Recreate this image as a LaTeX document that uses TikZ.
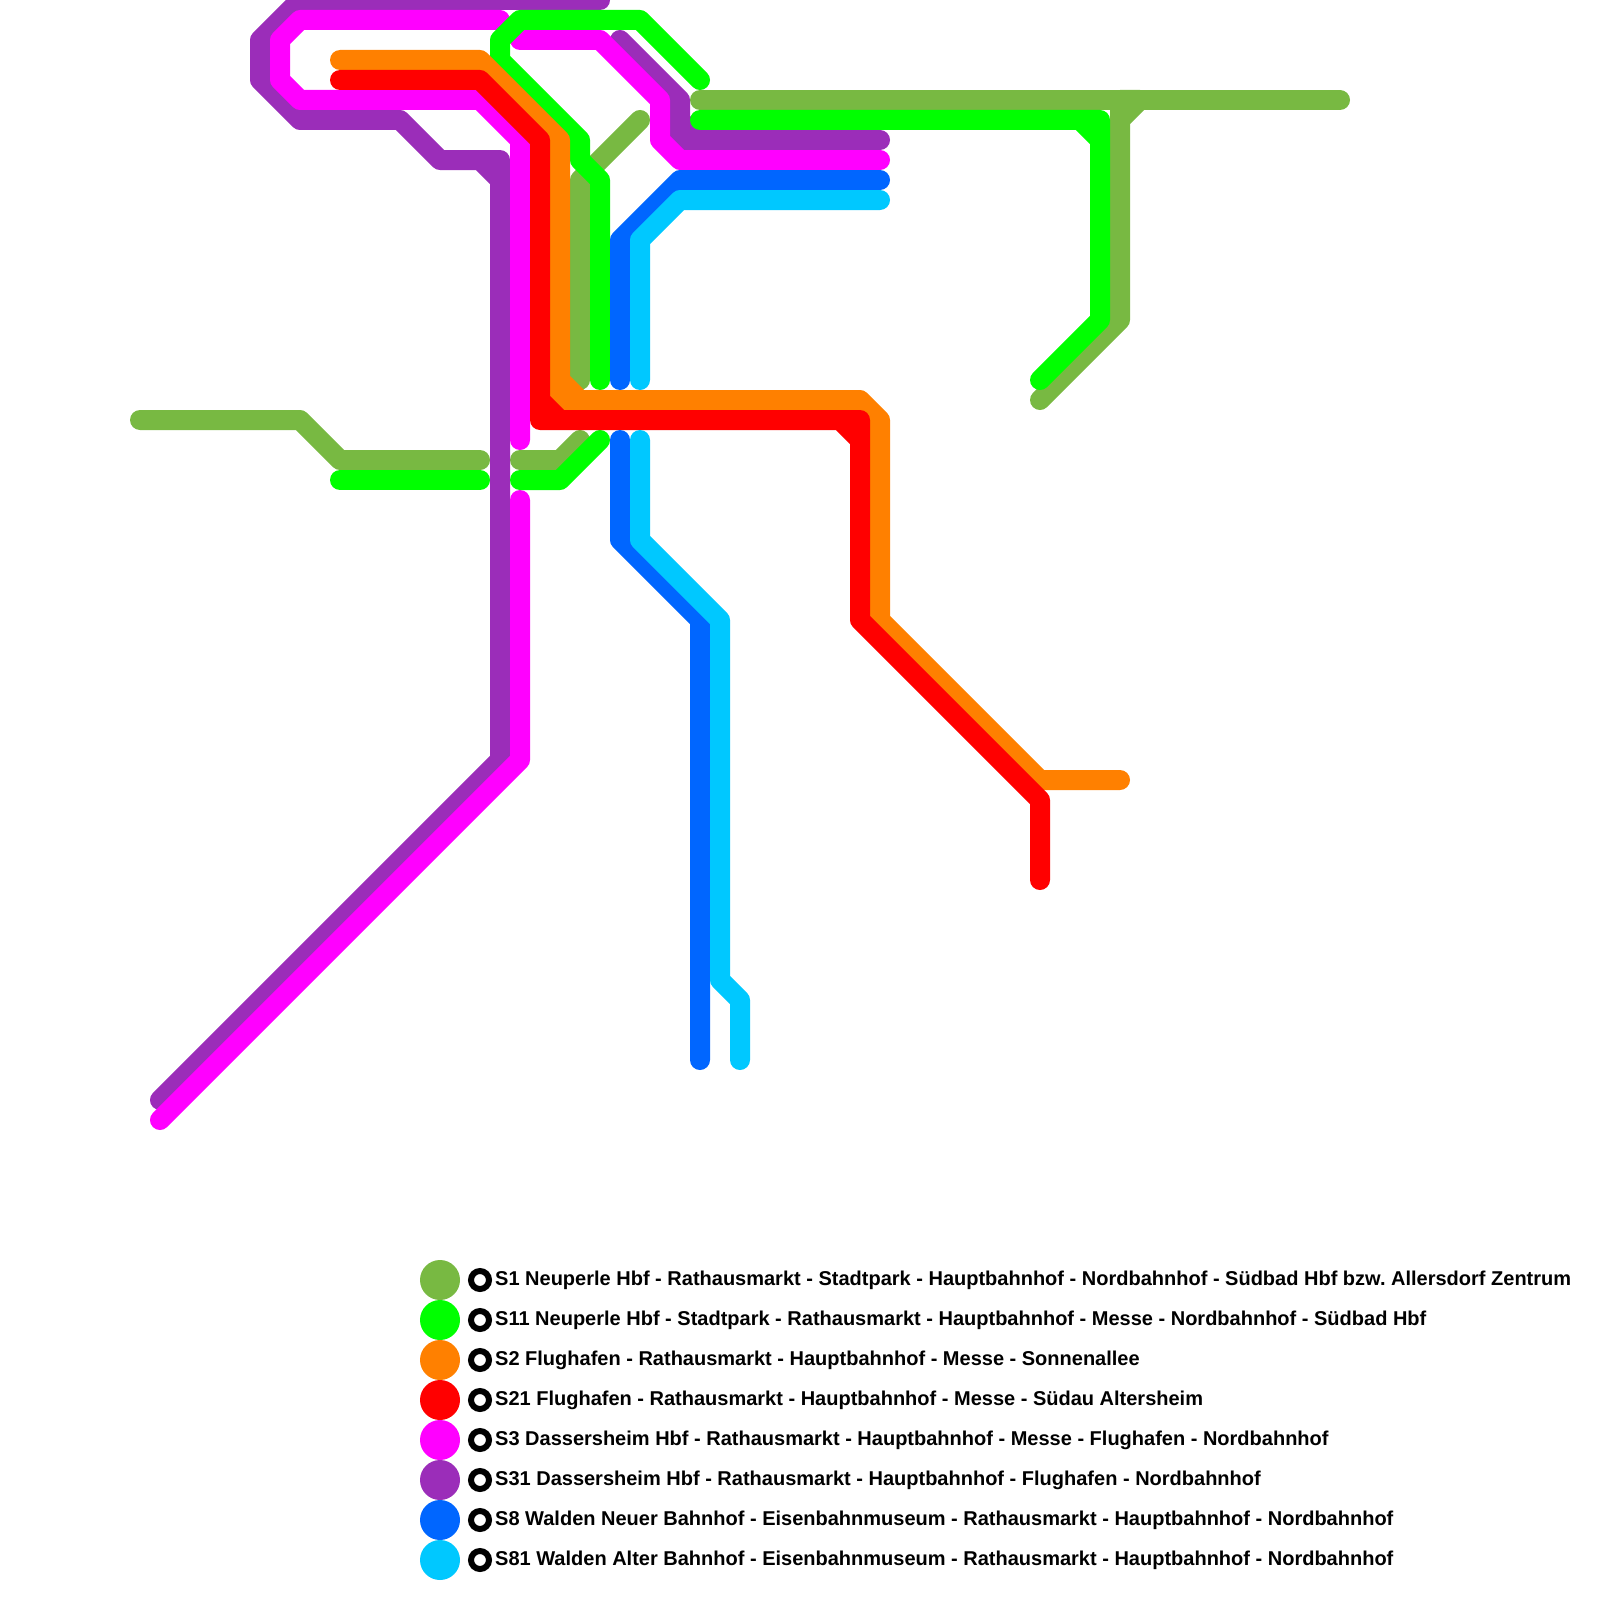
\documentclass[tikz,border=0pt]{standalone}
\usepackage{fontspec}
\setmainfont{Liberation Sans}
\usetikzlibrary{positioning}
\definecolor{sone}{RGB}{120,185,66}
\definecolor{soneone}{RGB}{0,255,0}
\definecolor{stwo}{RGB}{255,128,0}
\definecolor{stwoone}{RGB}{255,0,0}
\definecolor{sthree}{RGB}{255,0,255}
\definecolor{sthreeone}{RGB}{155,45,185}
\definecolor{seight}{RGB}{0,102,255}
\definecolor{seightone}{RGB}{0,200,255}
\frenchspacing
\tikzset{
    track/.style={line width=20pt,line cap=round,line join=round},
    legenddot/.style={circle,inner sep=0pt,minimum size=40pt},
    legendring/.style={circle,draw=black,line width=6pt,fill=white,inner sep=0pt,minimum size=18pt},
    legendtext/.style={inner sep=0pt,anchor=base west,font=\bfseries\fontsize{20}{22}\selectfont}
}
\begin{document}
\begin{tikzpicture}[x=1pt,y=-1pt]
    \useasboundingbox (0,0) rectangle (1600,1600);
    % S1
    \draw[track,sone] (140,420) -- (300,420) -- (340,460) -- (480,460);
    \draw[track,sone] (520,460) -- (560,460) -- (580,440);
    \draw[track,sone] (640,120) -- (580,180) -- (580,380);
    \draw[track,sone] (700,100) -- (1340,100);
    \draw[track,sone] (1140,100) -- (1120,100) -- (1120,120) -- (1140,100) -- (1120,120) -- (1120,320) -- (1040,400);
    % S31
    \draw[track,sthreeone] (600,0) -- (300,0) -- (260,40) -- (260,80) -- (300,120) -- (400,120) -- (440,160) -- (480,160) -- (500,160) -- (500,180) -- (480,160) -- (500,180) -- (500,760) -- (160,1100);
    \draw[track,sthreeone] (620,40) -- (680,100) -- (680,120) -- (680,140) -- (700,140) -- (680,120) -- (700,140) -- (880,140);
    % S3
    \draw[track,sthree] (500,20) -- (300,20) -- (280,40) -- (280,80) -- (300,100) -- (480,100) -- (520,140) -- (520,440);
    \draw[track,sthree] (520,500) -- (520,760) -- (160,1120);
    \draw[track,sthree] (520,40) -- (600,40) -- (660,100) -- (660,140) -- (680,160) -- (880,160);
    % S11
    \draw[track,soneone] (700,80) -- (640,20) -- (520,20) -- (500,40) -- (500,60) -- (580,140) -- (580,160) -- (600,180) -- (600,380);
    \draw[track,soneone] (340,480) -- (480,480);
    \draw[track,soneone] (520,480) -- (560,480) -- (600,440);
    \draw[track,soneone] (700,120) -- (1080,120) -- (1100,120) -- (1100,140) -- (1080,120) -- (1100,140) -- (1100,320) -- (1040,380);
    % S2 and S21
    \draw[track,stwo] (340,60) -- (480,60) -- (560,140) -- (560,380) -- (560,400) -- (580,400) -- (560,380) -- (580,400) -- (860,400) -- (880,420) -- (880,620) -- (1040,780) -- (1120,780);
    \draw[track,stwoone] (340,80) -- (480,80) -- (540,140) -- (540,400) -- (540,420) -- (560,420) -- (540,400) -- (560,420) -- (840,420) -- (860,420) -- (860,440) -- (840,420) -- (860,440) -- (860,620) -- (1040,800) -- (1040,880);
    % S8 and S81
    \draw[track,seight] (620,380) -- (620,240) -- (680,180) -- (880,180);
    \draw[track,seight] (620,440) -- (620,540) -- (700,620) -- (700,1060);
    \draw[track,seightone] (640,380) -- (640,240) -- (680,200) -- (880,200);
    \draw[track,seightone] (640,440) -- (640,540) -- (720,620) -- (720,980) -- (740,1000) -- (740,1060);
    % legend
    \foreach \n/\c/\t in {
        1280/sone/S1 Neuperle Hbf - Rathausmarkt - Stadtpark - Hauptbahnhof - Nordbahnhof - Südbad Hbf bzw. Allersdorf Zentrum,
        1320/soneone/S11 Neuperle Hbf - Stadtpark - Rathausmarkt - Hauptbahnhof - Messe - Nordbahnhof - Südbad Hbf,
        1360/stwo/S2 Flughafen - Rathausmarkt - Hauptbahnhof - Messe - Sonnenallee,
        1400/stwoone/S21 Flughafen - Rathausmarkt - Hauptbahnhof - Messe - Südau Altersheim,
        1440/sthree/S3 Dassersheim Hbf - Rathausmarkt - Hauptbahnhof - Messe - Flughafen - Nordbahnhof,
        1480/sthreeone/S31 Dassersheim Hbf - Rathausmarkt - Hauptbahnhof - Flughafen - Nordbahnhof,
        1520/seight/S8 Walden Neuer Bahnhof - Eisenbahnmuseum - Rathausmarkt - Hauptbahnhof - Nordbahnhof,
        1560/seightone/S81 Walden Alter Bahnhof - Eisenbahnmuseum - Rathausmarkt - Hauptbahnhof - Nordbahnhof}
    {
        \node[legenddot,fill=\c] (dot\n) at (440,\n) {};
        \node[legendring] (ring\n) at (480,\n) {};
        \node[legendtext] (label\n) at (495,\n+5) {\t};
    }
\end{tikzpicture}
\end{document}
